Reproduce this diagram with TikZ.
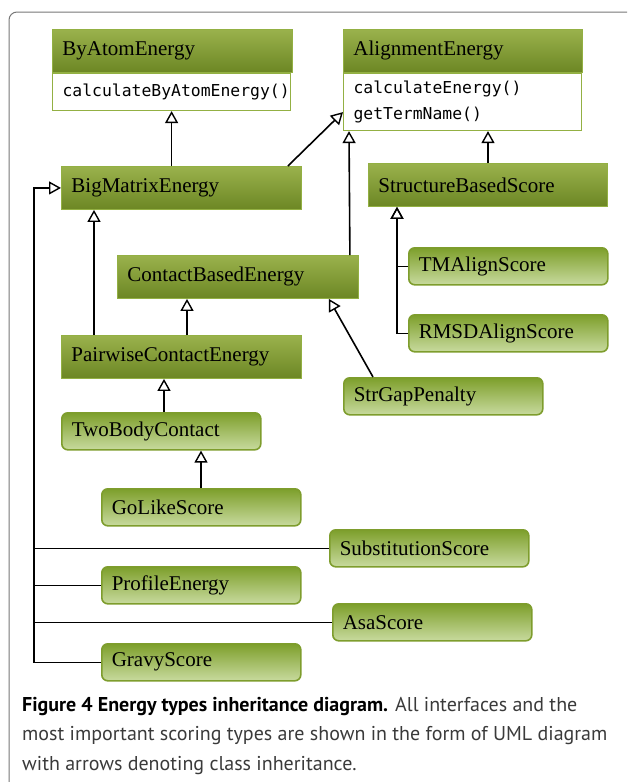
\documentclass[tikz,border=0pt]{standalone}
\usepackage{fontspec}
\setmainfont{Liberation Serif}
\setmonofont{DejaVu Sans Mono}
\newfontfamily\capfont{PT Sans}
\usetikzlibrary{arrows.meta,calc}

\definecolor{clstop}{HTML}{9AB24C}
\definecolor{clsbot}{HTML}{6C8724}
\definecolor{clsedge}{HTML}{93B043}
\definecolor{leaftop}{HTML}{7D9F2B}
\definecolor{leafbot}{HTML}{C8DA9E}
\definecolor{leafedge}{HTML}{7E9D2D}
\definecolor{framegray}{HTML}{777777}
\definecolor{capgray}{HTML}{3A3A3A}

\tikzset{
  cls/.style={anchor=north west, draw=clsedge, line width=0.9pt,
    top color=clstop, bottom color=clsbot, minimum height=43pt,
    text width=#1, align=left, inner xsep=10pt, inner ysep=0pt,
    font=\fontsize{21}{24}\selectfont},
  ops/.style={anchor=north west, draw=clsedge, line width=1.2pt, fill=white,
    minimum height=#1, text width=218pt, align=left, inner xsep=10pt, inner ysep=0pt,
    font=\ttfamily\fontsize{16.4}{26}\selectfont},
  leaf/.style={anchor=north west, draw=leafedge, line width=1.6pt, rounded corners=6pt,
    top color=leaftop, bottom color=leafbot, minimum height=37pt,
    text width=179pt, align=left, inner xsep=10pt, inner ysep=0pt,
    font=\fontsize{21}{24}\selectfont},
  inh/.style={-{Triangle[open,length=12pt,width=13pt,line width=1.4pt]}, line width=1.6pt},
  bus/.style={line width=1.6pt}
}

\begin{document}
\begin{tikzpicture}[x=1pt,y=-1pt]
\useasboundingbox (0,0) rectangle (627,782);

\draw[framegray, line width=1pt, rounded corners=8pt] (9,782) -- (9,12) -- (627,12);

\node[cls=220pt] (byatom) at (52,29) {ByAtomEnergy};
\node[ops=37pt] (byatomops) at (byatom.south west) {calculateByAtomEnergy()};

\node[cls=219pt] (align) at (343,29) {AlignmentEnergy};
\node[ops=57pt] (alignops) at (align.south west) {calculateEnergy()\\getTermName()};

\node[cls=220pt] (bigmatrix) at (61,166) {BigMatrixEnergy};
\node[cls=219pt] (structure) at (368,163) {StructureBasedScore};
\node[cls=221pt] (contact) at (117,255) {ContactBasedEnergy};
\node[cls=220pt] (pairwise) at (61,335) {PairwiseContactEnergy};

\node[leaf] (twobody) at (61,412) {TwoBodyContact};
\node[leaf] (golike) at (101,488) {GoLikeScore};
\node[leaf] (tmalign) at (408,247) {TMAlignScore};
\node[leaf] (rmsdalign) at (408,314) {RMSDAlignScore};
\node[leaf] (strgap) at (343,377) {StrGapPenalty};
\node[leaf] (subst) at (329,529) {SubstitutionScore};
\node[leaf] (profile) at (101,566) {ProfileEnergy};
\node[leaf] (asa) at (332,603) {AsaScore};
\node[leaf] (gravy) at (101,643) {GravyScore};

\coordinate (trunk) at (34,0);

\draw[inh] (bigmatrix.north -| byatomops.south) -- (byatomops.south);
\draw[inh] ($(bigmatrix.north east)+(-14,0)$) -- ($(alignops.south west)+(0,-19)$);
\draw[inh] ($(contact.north east)+(-9,0)$) -- ($(alignops.south west)+(6,0)$);
\draw[inh] ($(structure.north west)+(120,0)$) -- ($(alignops.south west)+(145,0)$);
\draw[inh] (tmalign.west) -| ($(structure.south west)+(29,0)$);
\draw[inh] (rmsdalign.west) -| ($(structure.south west)+(29,0)$);
\draw[inh] ($(pairwise.north west)+(33,0)$) -- ($(bigmatrix.south west)+(33,0)$);
\draw[inh] ($(pairwise.north west)+(126,0)$) -- ($(contact.south west)+(70,0)$);
\draw[inh] ($(twobody.north west)+(103,0)$) -- ($(pairwise.south west)+(103,0)$);
\draw[inh] ($(golike.north west)+(100,0)$) -- ($(twobody.south west)+(140,0)$);
\draw[inh] ($(strgap.north west)+(30,0)$) -- ($(contact.south east)+(-30,0)$);

\draw[inh] (gravy.west) -- (gravy.west -| trunk) |- (bigmatrix.west);
\draw[bus] (subst.west) -- (subst.west -| trunk);
\draw[bus] (profile.west) -- (profile.west -| trunk);
\draw[bus] (asa.west) -- (asa.west -| trunk);

\node[anchor=north west, align=left, inner sep=0pt, text=capgray,
  font=\capfont\fontsize{20}{29.5}\selectfont] (caption) at (22,697)
  {\textbf{\color{black}Figure 4 Energy types inheritance diagram.} All interfaces and the\\
   most important scoring types are shown in the form of UML diagram\\
   with arrows denoting class inheritance.};
\end{tikzpicture}
\end{document}
